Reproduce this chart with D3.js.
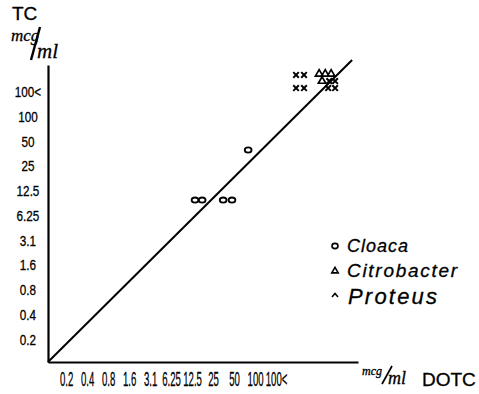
<!DOCTYPE html>
<html>
<head>
<meta charset="utf-8">
<script src="https://cdn.jsdelivr.net/npm/d3@7"></script>
<style>
  body { margin: 0; background: #fff; }
  svg { display: block; font-family: "Liberation Sans", Arial, sans-serif; }
  text { stroke: #000; stroke-width: 0.3px; }
</style>
</head>
<body>
<div id="chart"></div>
<script>
// tick labels (two-fold dilution steps, 0 = 0.2 mcg/ml)
const xLabels = ["0.2", "0.4", "0.8", "1.6", "3.1", "6.25", "12.5", "25", "50", "100", "100<"];
const yLabels = ["0.2", "0.4", "0.8", "1.6", "3.1", "6.25", "12.5", "25", "50", "100", "100<"];

// points in dilution steps: [DOTC, TC]
const cloaca = [[6.14, 5.6], [6.48, 5.6], [7.48, 5.6], [7.9, 5.6], [8.67, 7.62]];
const citrobacter = [[12.05, 10.69], [12.34, 10.69], [12.62, 10.69], [12.19, 10.4]];
const proteus = [[10.95, 10.65], [11.33, 10.65], [10.95, 10.12], [11.33, 10.12],
                 [12.53, 10.4], [12.81, 10.4], [12.48, 10.12], [12.81, 10.12]];

// line of equal activity
const refLine = [[-0.86, -0.93], [13.62, 11.25]];

const legendNames = ["Cloaca", "Citrobacter", "Proteus"];

const width = 479, height = 394;
const svg = d3.select("#chart").append("svg")
    .attr("width", width)
    .attr("height", height);

const x = d3.scaleLinear().domain([-0.86, 13.9]).range([48, 358]);
const y = d3.scaleLinear().domain([-0.93, 11.05]).range([362, 65]);

// x axis
const gx = svg.append("g")
    .attr("transform", `translate(0,${y(-0.93)})`)
    .call(d3.axisBottom(x)
        .tickValues(d3.range(xLabels.length))
        .tickFormat(i => xLabels[i])
        .tickSize(0)
        .tickSizeOuter(0));
gx.select(".domain").attr("stroke", "#000").attr("stroke-width", 2.2);
gx.selectAll("text")
    .attr("y", 0)
    .attr("dy", 0)
    .attr("fill", "#000")
    .attr("transform", "translate(0,24) scale(0.48,1)")
    .style("font-family", "'Liberation Sans', Arial, sans-serif")
    .style("font-size", "20px");

// y axis
const gy = svg.append("g")
    .attr("transform", `translate(${x(-0.86)},0)`)
    .call(d3.axisLeft(y)
        .tickValues(d3.range(yLabels.length))
        .tickFormat(i => yLabels[i])
        .tickSize(0)
        .tickSizeOuter(0));
gy.select(".domain").attr("stroke", "#000").attr("stroke-width", 2.2);
gy.selectAll("text")
    .attr("x", 0)
    .attr("dy", "0.36em")
    .attr("text-anchor", "middle")
    .attr("fill", "#000")
    .attr("transform", "translate(-20,0) scale(0.78,1)")
    .style("font-family", "'Liberation Sans', Arial, sans-serif")
    .style("font-size", "15px");

// diagonal
svg.append("line")
    .attr("x1", x(refLine[0][0])).attr("y1", y(refLine[0][1]))
    .attr("x2", x(refLine[1][0])).attr("y2", y(refLine[1][1]))
    .attr("stroke", "#000")
    .attr("stroke-width", 2);

// markers
svg.append("g").selectAll("ellipse")
    .data(cloaca)
    .enter().append("ellipse")
    .attr("cx", d => x(d[0]))
    .attr("cy", d => y(d[1]))
    .attr("rx", 3.4).attr("ry", 2.6)
    .attr("fill", "none").attr("stroke", "#000").attr("stroke-width", 1.8);

const tri = d3.symbol(d3.symbolTriangle, 24);
svg.append("g").selectAll("path")
    .data(citrobacter)
    .enter().append("path")
    .attr("d", tri)
    .attr("transform", d => `translate(${x(d[0])},${y(d[1])})`)
    .attr("fill", "none").attr("stroke", "#000").attr("stroke-width", 1.7);

const cross = d3.symbol(d3.symbolTimes, 22);
svg.append("g").selectAll("path")
    .data(proteus)
    .enter().append("path")
    .attr("d", cross)
    .attr("transform", d => `translate(${x(d[0])},${y(d[1])})`)
    .attr("fill", "none").attr("stroke", "#000").attr("stroke-width", 2);

// legend
const legend = svg.append("g").attr("transform", "translate(335,0)");
const legendY = [252, 277, 304];
const legendLen = [61, 110, 89];
const legendSize = [18, 19, 22];
legend.append("ellipse").attr("cx", 0).attr("cy", legendY[0] - 6)
    .attr("rx", 3).attr("ry", 2.6)
    .attr("fill", "none").attr("stroke", "#000").attr("stroke-width", 1.6);
legend.append("path").attr("d", d3.symbol(d3.symbolTriangle, 18))
    .attr("transform", `translate(0,${legendY[1] - 6})`)
    .attr("fill", "none").attr("stroke", "#000").attr("stroke-width", 1.6);
legend.append("path").attr("d", "M-3,1 L0,-2.5 L3,1")
    .attr("transform", `translate(0,${legendY[2] - 8})`)
    .attr("fill", "none").attr("stroke", "#000").attr("stroke-width", 1.6);
legend.selectAll("text")
    .data(legendNames)
    .enter().append("text")
    .attr("x", (d, i) => i === 2 ? 13 : 12)
    .attr("y", (d, i) => legendY[i])
    .attr("textLength", (d, i) => legendLen[i])
    .attr("lengthAdjust", "spacing")
    .style("font-size", (d, i) => legendSize[i] + "px")
    .style("font-style", "italic")
    .text(d => d);

// y axis unit
svg.append("text").attr("x", 12).attr("y", 20)
    .style("font-size", "19px").text("TC");
svg.append("text").attr("x", 11).attr("y", 41)
    .style("font-size", "17px").style("font-style", "italic")
    .style("font-family", "'Liberation Serif', serif").text("mcg");
svg.append("line").attr("x1", 40).attr("y1", 27).attr("x2", 31).attr("y2", 60)
    .attr("stroke", "#000").attr("stroke-width", 2.4);
svg.append("text").attr("x", 37).attr("y", 58)
    .style("font-size", "21px").style("font-style", "italic")
    .style("font-family", "'Liberation Serif', serif").text("ml");

// x axis unit
svg.append("text").attr("x", 362).attr("y", 375)
    .style("font-size", "12px").style("font-style", "italic")
    .style("font-family", "'Liberation Serif', serif").text("mcg");
svg.append("line").attr("x1", 392).attr("y1", 366).attr("x2", 382).attr("y2", 384)
    .attr("stroke", "#000").attr("stroke-width", 1.7);
svg.append("text").attr("x", 388).attr("y", 384)
    .style("font-size", "18px").style("font-style", "italic")
    .style("font-family", "'Liberation Serif', serif").text("ml");
svg.append("text").attr("x", 422).attr("y", 386)
    .style("font-size", "19px").text("DOTC");
</script>
</body>
</html>
